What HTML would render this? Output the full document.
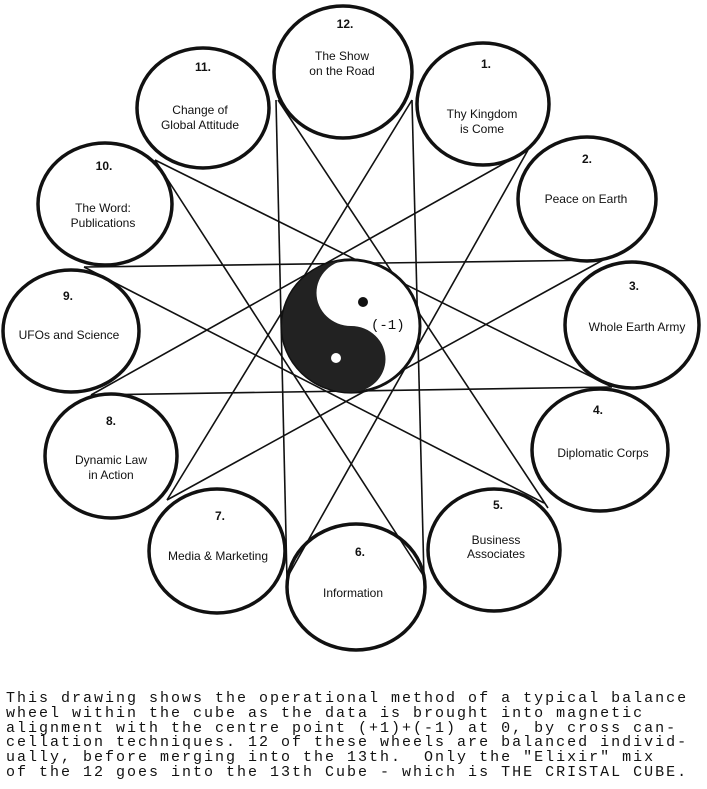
<!DOCTYPE html>
<html><head><meta charset="utf-8"><style>
html,body{margin:0;padding:0;background:#fff;}
body{width:707px;height:789px;position:relative;overflow:hidden;}
svg{position:absolute;left:0;top:0;}
.cap{position:absolute;left:6px;top:692px;font-family:"Liberation Mono",monospace;font-size:15px;letter-spacing:2px;line-height:14.8px;color:#111;white-space:pre;}
</style></head><body>
<svg width="707" height="789" viewBox="0 0 707 789">
<g stroke="#111" stroke-width="1.6" fill="none">
<line x1="528" y1="150" x2="287" y2="578"/>
<line x1="603" y1="260" x2="167" y2="500"/>
<line x1="612" y1="387" x2="91" y2="395"/>
<line x1="544" y1="503" x2="84" y2="267"/>
<line x1="423" y1="575" x2="155" y2="160"/>
<line x1="287" y1="580" x2="276" y2="100"/>
<line x1="167" y1="500" x2="412" y2="100"/>
<line x1="91" y1="395" x2="528" y2="150"/>
<line x1="84" y1="267" x2="603" y2="260"/>
<line x1="155" y1="160" x2="612" y2="387"/>
<line x1="278" y1="100" x2="548" y2="508"/>
<line x1="412" y1="100" x2="424" y2="578"/>
</g>
<g stroke="#111" stroke-width="3.5" fill="none">
<ellipse cx="343" cy="72" rx="69" ry="66"/>
<ellipse cx="203" cy="108" rx="66" ry="60"/>
<ellipse cx="483" cy="104" rx="66" ry="61"/>
<ellipse cx="105" cy="204" rx="67" ry="61"/>
<ellipse cx="587" cy="199" rx="69" ry="62"/>
<ellipse cx="71" cy="331" rx="68" ry="61"/>
<ellipse cx="632" cy="325" rx="67" ry="63"/>
<ellipse cx="111" cy="456" rx="66" ry="62"/>
<ellipse cx="600" cy="450" rx="68" ry="61"/>
<ellipse cx="217" cy="551" rx="68" ry="62"/>
<ellipse cx="494" cy="550" rx="66" ry="61"/>
<ellipse cx="356" cy="587" rx="69" ry="63"/>
</g>
<g transform="translate(351,326) scale(1,0.96)">
<circle cx="0" cy="0" r="69" fill="#fff" stroke="#111" stroke-width="3"/>
<path d="M0 -69 A69 69 0 0 0 0 69 A34.5 34.5 0 0 0 0 0 A34.5 34.5 0 0 1 0 -69 Z" fill="#222"/>
</g>
<circle cx="363" cy="302" r="5" fill="#111"/>
<circle cx="336" cy="358" r="5" fill="#fff"/>
<text x="371" y="329" font-family="Liberation Mono,monospace" font-size="14" fill="#111">(-1)</text>
<g font-family="Liberation Sans,sans-serif" font-size="12" fill="#111" text-anchor="middle">
<g font-weight="bold">
<text x="345" y="28">12.</text><text x="203" y="71">11.</text><text x="486" y="68">1.</text>
<text x="104" y="170">10.</text><text x="587" y="163">2.</text><text x="68" y="300">9.</text>
<text x="634" y="290">3.</text><text x="111" y="425">8.</text><text x="598" y="414">4.</text>
<text x="220" y="520">7.</text><text x="498" y="509">5.</text><text x="360" y="556">6.</text>
</g>
<text x="342" y="60">The Show</text><text x="342" y="75">on the Road</text>
<text x="200" y="114">Change of</text><text x="200" y="129">Global Attitude</text>
<text x="482" y="118">Thy Kingdom</text><text x="482" y="133">is Come</text>
<text x="103" y="212">The Word:</text><text x="103" y="227">Publications</text>
<text x="586" y="203">Peace on Earth</text>
<text x="69" y="339">UFOs and Science</text>
<text x="637" y="331">Whole Earth Army</text>
<text x="111" y="464">Dynamic Law</text><text x="111" y="479">in Action</text>
<text x="603" y="457">Diplomatic Corps</text>
<text x="218" y="560">Media &amp; Marketing</text>
<text x="496" y="544">Business</text><text x="496" y="558">Associates</text>
<text x="353" y="597">Information</text>
</g>
</svg>
<div class="cap">This drawing shows the operational method of a typical balance
wheel within the cube as the data is brought into magnetic
alignment with the centre point (+1)+(-1) at 0, by cross can-
cellation techniques. 12 of these wheels are balanced individ-
ually, before merging into the 13th.  Only the "Elixir" mix
of the 12 goes into the 13th Cube - which is THE CRISTAL CUBE.</div>
</body></html>
